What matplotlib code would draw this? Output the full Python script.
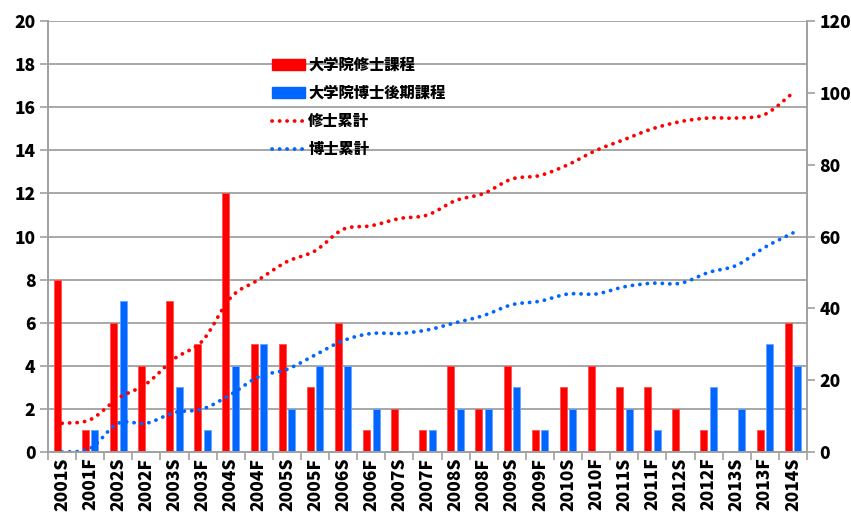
import numpy as np
import matplotlib.pyplot as plt
from matplotlib.path import Path
from matplotlib.patches import PathPatch, Patch
from matplotlib.lines import Line2D

plt.rcParams['font.family'] = ['Noto Sans CJK JP', 'DejaVu Sans']
plt.rcParams['font.weight'] = 'black'

# graduates per term (S = spring, F = fall)
terms = ['2001S', '2001F', '2002S', '2002F', '2003S', '2003F', '2004S',
         '2004F', '2005S', '2005F', '2006S', '2006F', '2007S', '2007F',
         '2008S', '2008F', '2009S', '2009F', '2010S', '2010F', '2011S',
         '2011F', '2012S', '2012F', '2013S', '2013F', '2014S']
master = [8, 1, 6, 4, 7, 5, 12, 5, 5, 3, 6, 1, 2, 1,
          4, 2, 4, 1, 3, 4, 3, 3, 2, 1, 0, 1, 6]
doctor = [0, 1, 7, 0, 3, 1, 4, 5, 2, 4, 4, 2, 0, 1,
          2, 2, 3, 1, 2, 0, 2, 1, 0, 3, 2, 5, 4]
master_total = [8, 9, 15, 19, 26, 31, 43, 48, 53, 56, 62, 63, 65, 66,
                70, 72, 76, 77, 80, 84, 87, 90, 92, 93, 93, 94, 100]
doctor_total = [0, 1, 8, 8, 11, 12, 16, 21, 23, 27, 31, 33, 33, 34,
                36, 38, 41, 42, 44, 44, 46, 47, 47, 50, 52, 57, 61]

labels = ['大学院修士課程', '大学院博士後期課程', '修士累計', '博士累計']

RED = '#FF0000'
BLUE = '#0066FF'
GRID = '#A0A0A0'
DOTS = (0, (0.05, 1.95))


def smooth_path(xs, ys):
    # excel style "smoothed line": cubic bezier through every point
    p = np.column_stack([xs, ys]).astype(float)
    pad = np.vstack([p[:1], p, p[-1:]])
    verts = [p[0]]
    codes = [Path.MOVETO]
    for i in range(len(p) - 1):
        c1 = pad[i + 1] + (pad[i + 2] - pad[i]) / 6
        c2 = pad[i + 2] - (pad[i + 3] - pad[i + 1]) / 6
        verts += [c1, c2, pad[i + 2]]
        codes += [Path.CURVE4] * 3
    return Path(verts, codes)


fig = plt.figure(figsize=(8.51, 5.14), dpi=100)
ax = fig.add_axes([0.0564, 0.1206, 0.8919, 0.8385])
ax2 = ax.twinx()

x = np.arange(len(terms))
w = 0.25
ax.bar(x - 0.17, master, w, color=RED, edgecolor='#FF5050', lw=0.6, zorder=2)
ax.bar(x + 0.17, doctor, w, color=BLUE, edgecolor='#66A3FF', lw=0.6, zorder=2)

for vals, c in [(master_total, RED), (doctor_total, BLUE)]:
    ax2.add_patch(PathPatch(smooth_path(x, vals), fill=False, edgecolor=c,
                            lw=2.7, linestyle=DOTS, capstyle='round'))

ax.set_xlim(-0.5, len(terms) - 0.5)
ax.set_ylim(0, 20)
ax2.set_ylim(0, 120)
ax.set_yticks(range(0, 21, 2))
ax2.set_yticks(range(0, 121, 20))
ax.grid(axis='y', color=GRID, lw=1.3)
ax.set_axisbelow(True)

# boundary ticks between terms, labels at the centres
ax.set_xticks(np.arange(-0.5, len(terms), 1))
ax.set_xticklabels([])
ax.set_xticks(x, minor=True)
ax.set_xticklabels(terms, minor=True, rotation=90, fontsize=12.5,
                   fontweight='black')
ax.tick_params(axis='x', which='major', length=6, color=GRID, width=1.2)
ax.tick_params(axis='x', which='minor', length=0, pad=4)
ax.tick_params(axis='y', length=6, color=GRID, width=1.2, labelsize=12.5,
               pad=3)
ax2.tick_params(axis='y', length=6, color=GRID, width=1.2, labelsize=12.5,
                pad=3)
for a in (ax, ax2):
    for s in a.spines.values():
        s.set_color(GRID)
        s.set_linewidth(1.2)
    a.spines['top'].set_visible(False)
    for t in a.get_yticklabels():
        t.set_fontweight('black')

handles = [Patch(color=RED), Patch(color=BLUE),
           Line2D([], [], color=RED, lw=2.7, linestyle=DOTS,
                  dash_capstyle='round'),
           Line2D([], [], color=BLUE, lw=2.7, linestyle=DOTS,
                  dash_capstyle='round')]
fig.legend(handles, labels, loc='upper left', bbox_to_anchor=(0.311, 0.902),
           frameon=False, borderpad=0, handlelength=2.15, handletextpad=0.2,
           labelspacing=0.85, prop={'family': ['Noto Sans CJK JP'],
                                    'weight': 'black', 'size': 11})

fig.savefig('out.png', dpi=100)
